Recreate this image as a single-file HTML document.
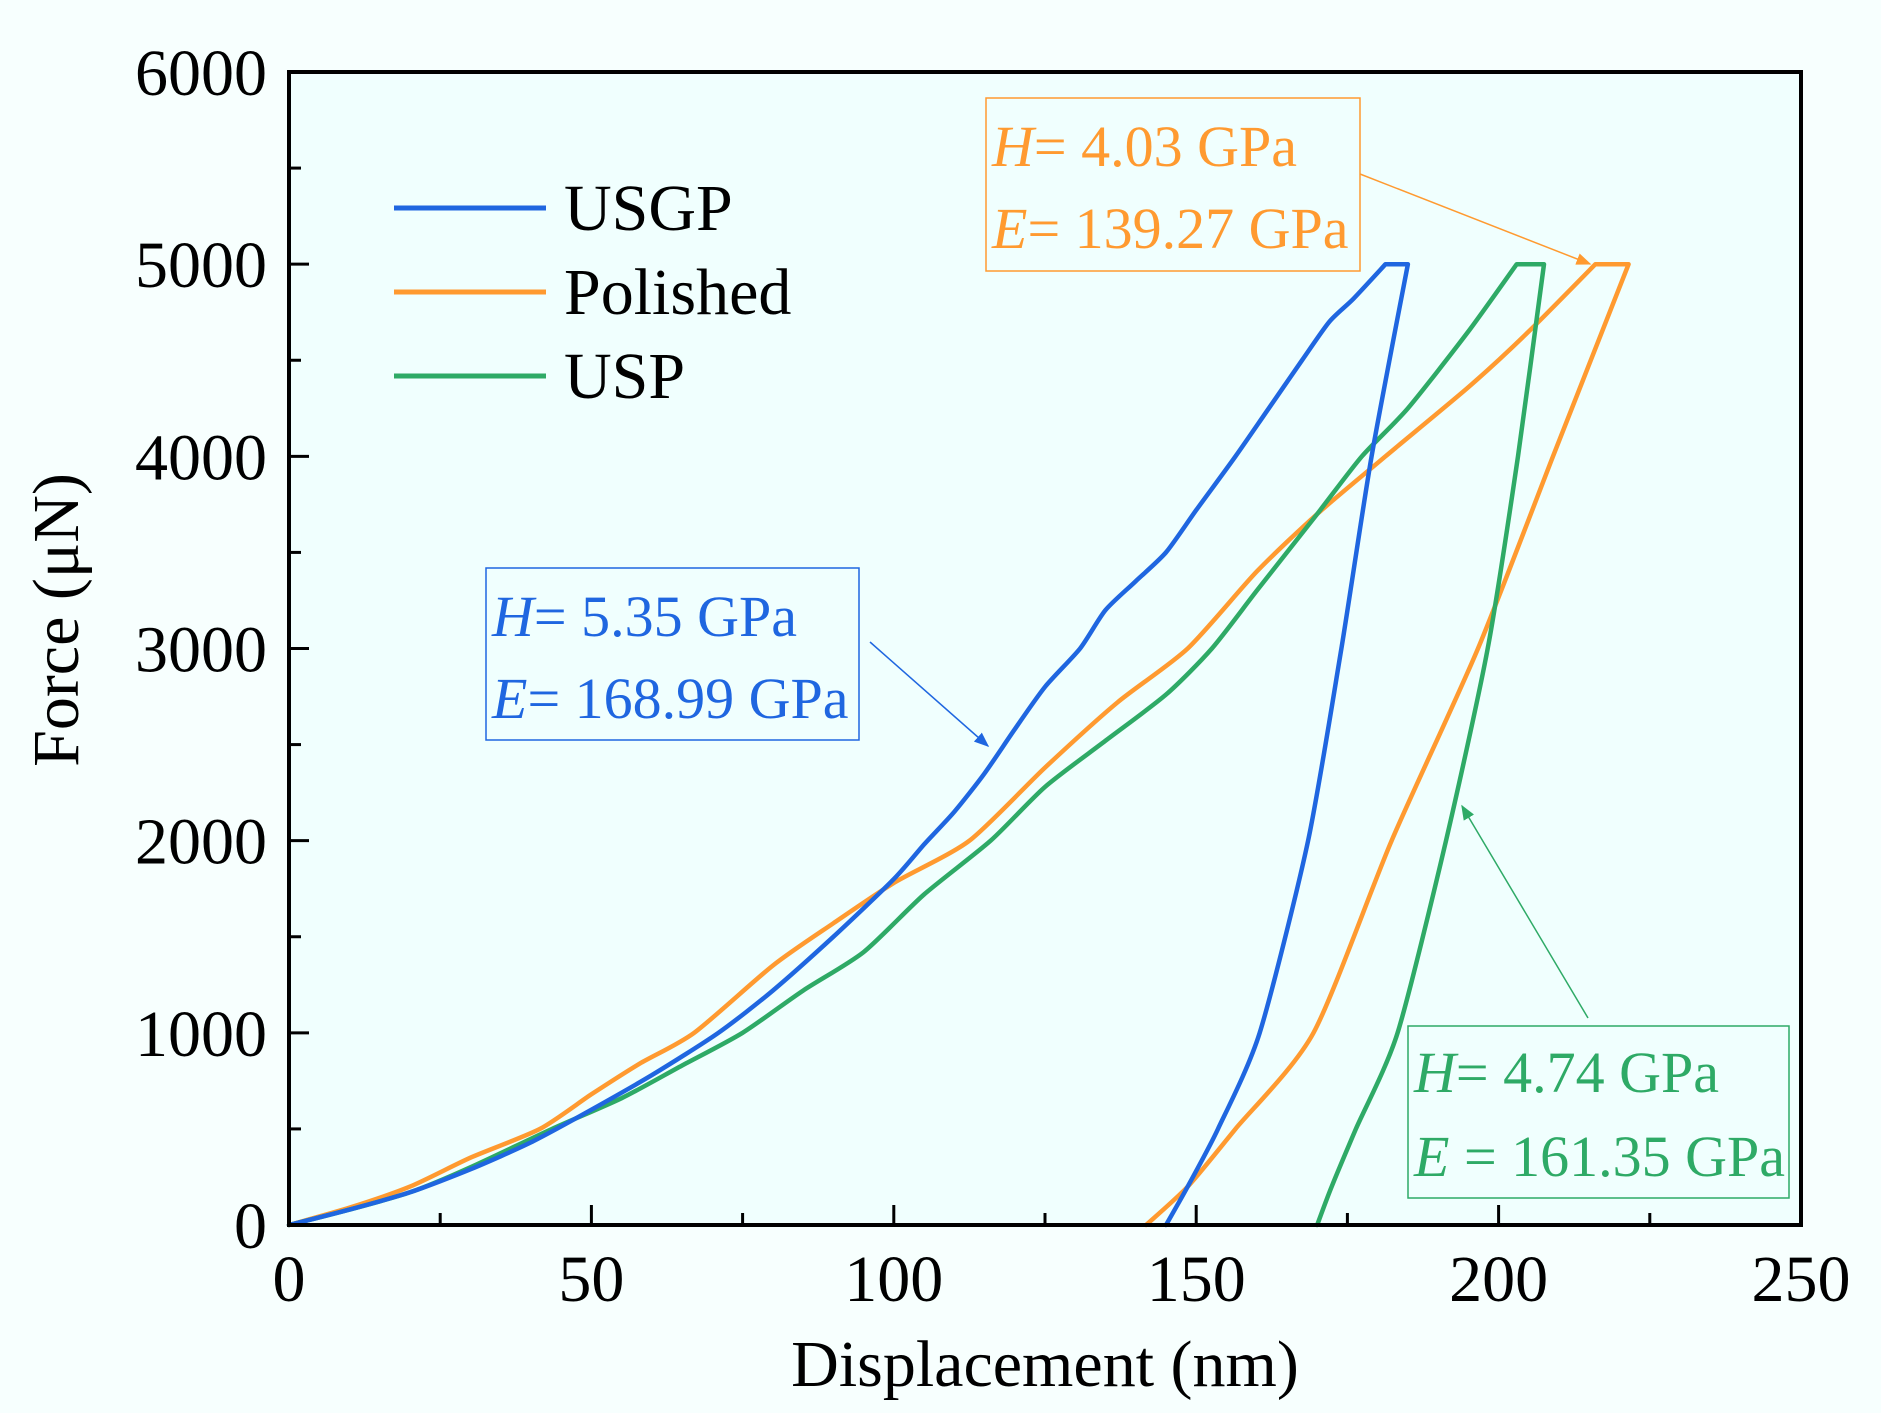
<!DOCTYPE html>
<html><head><meta charset="utf-8">
<style>
html,body{margin:0;padding:0;background:#f7fffe;}
svg{display:block;font-family:"Liberation Serif",serif;}
</style></head>
<body>
<svg id="chart" width="1881" height="1413" viewBox="0 0 1881 1413" xmlns="http://www.w3.org/2000/svg">
<rect x="0" y="0" width="1881" height="1413" fill="#f7fffe"/>
<rect x="289" y="72" width="1512" height="1153" fill="#f0fffe"/>
<g id="curves"></g>
<g id="axes"></g>
<rect x="289" y="72" width="1512" height="1153" fill="none" stroke="#000" stroke-width="4"/>
<text x="0" y="0" transform="translate(78,620) rotate(-90)" text-anchor="middle" font-size="66" fill="#000">Force (μN)</text>
<text x="1045" y="1386" text-anchor="middle" font-size="66" fill="#000">Displacement (nm)</text>
<g>
<g><line x1="394" y1="208" x2="546" y2="208" stroke="#1f66e0" stroke-width="5"/><text x="564" y="230" font-size="66">USGP</text></g>
<g><line x1="394" y1="292" x2="546" y2="292" stroke="#ff9a30" stroke-width="5"/><text x="564" y="314" font-size="66">Polished</text></g>
<g><line x1="394" y1="376" x2="546" y2="376" stroke="#2eaa66" stroke-width="5"/><text x="564" y="398" font-size="66">USP</text></g>
</g>
<defs>
<marker id="ao" markerWidth="10" markerHeight="8" refX="9" refY="4" orient="auto" viewBox="0 0 10 8"><path d="M0,0 L10,4 L0,8 Z" fill="#ff9a30"/></marker>
<marker id="ab" markerWidth="10" markerHeight="8" refX="9" refY="4" orient="auto" viewBox="0 0 10 8"><path d="M0,0 L10,4 L0,8 Z" fill="#1f66e0"/></marker>
<marker id="ag" markerWidth="10" markerHeight="8" refX="9" refY="4" orient="auto" viewBox="0 0 10 8"><path d="M0,0 L10,4 L0,8 Z" fill="#2eaa66"/></marker>
</defs>
<g fill="#ff9a30">
<rect x="986" y="98" width="374" height="173" fill="none" stroke="#ff9a30" stroke-width="1.5"/>
<text x="992" y="166" font-size="58"><tspan font-style="italic">H</tspan>= 4.03 GPa</text>
<text x="992" y="248" font-size="58"><tspan font-style="italic">E</tspan>= 139.27 GPa</text>
<line x1="1360" y1="174" x2="1590" y2="264" stroke="#ff9a30" stroke-width="1.5" marker-end="url(#ao)"/>
</g>
<g fill="#1f66e0">
<rect x="486" y="568" width="373" height="172" fill="none" stroke="#1f66e0" stroke-width="1.5"/>
<text x="492" y="636" font-size="58"><tspan font-style="italic">H</tspan>= 5.35 GPa</text>
<text x="492" y="718" font-size="58"><tspan font-style="italic">E</tspan>= 168.99 GPa</text>
<line x1="870" y1="642" x2="988" y2="746" stroke="#1f66e0" stroke-width="1.5" marker-end="url(#ab)"/>
</g>
<g fill="#2eaa66">
<rect x="1408" y="1026" width="381" height="172" fill="none" stroke="#2eaa66" stroke-width="1.5"/>
<text x="1414" y="1092" font-size="58"><tspan font-style="italic">H</tspan>= 4.74 GPa</text>
<text x="1414" y="1176" font-size="58"><tspan font-style="italic">E</tspan> = 161.35 GPa</text>
<line x1="1588" y1="1018" x2="1462" y2="806" stroke="#2eaa66" stroke-width="1.5" marker-end="url(#ag)"/>
</g>
</svg>
<script>
const xTicks = [0, 50, 100, 150, 200, 250];
const yTicks = [0, 1000, 2000, 3000, 4000, 5000, 6000];
const usgpDisp = [0,10,20,30,40,50,60,71,80,90,100,105,110,115,120,125,130.8,135,140,145,150,156.5,162,167.5,172,176,181.3,185,179,174,168.5,160.5,153.6,148.6,145];
const usgpForce = [0,80,170,290,430,600,780,1000,1220,1500,1800,1980,2150,2350,2580,2800,3000,3200,3350,3500,3720,4000,4250,4500,4700,4820,5000,5000,4000,3000,2000,1000,500,200,0];
const polDisp = [0,10,20,30,41.5,50,58,67,80,90,100,112.5,125,137,148.6,160,170,181.3,195,205,216,221.5,209,196.6,182.3,169.4,156.5,148.6,141.7];
const polForce = [0,90,200,350,500,680,840,1000,1350,1570,1780,2000,2380,2720,3000,3400,3700,4000,4360,4650,5000,5000,4000,3000,2000,1000,500,200,0];
const uspDisp = [0,10,20,30,43.5,55,65,75,85,95,105,116,125,135,145,152.6,160,170,177.4,185,195,203,207.5,203.2,198.2,191.3,183.3,176.4,172.4,170];
const uspForce = [0,80,170,300,500,660,830,1000,1220,1420,1720,2000,2280,2520,2760,3000,3300,3700,4000,4250,4650,5000,5000,4000,3000,2000,1000,500,200,0];

const X0=289, X1=1801, Y0=1225, Y1=72;
const xs = d => X0 + (d/250)*(X1-X0);
const ys = f => Y0 - (f/6000)*(Y0-Y1);
const NS='http://www.w3.org/2000/svg';
const axes=document.getElementById('axes');
const curves=document.getElementById('curves');

function mk(tag, attrs, parent){const e=document.createElementNS(NS,tag);for(const k in attrs)e.setAttribute(k,attrs[k]);parent.appendChild(e);return e;}

xTicks.forEach((v,i)=>{
  const t=mk('line',{x1:xs(v),x2:xs(v),y1:Y0,y2:Y0-20,stroke:'#000','stroke-width':3},axes);
  
  
  if(i<xTicks.length-1){
    const m=mk('line',{x1:xs(v+25),x2:xs(v+25),y1:Y0,y2:Y0-12,stroke:'#000','stroke-width':3},axes);
    
    
  }
  const l=mk('text',{x:xs(v),y:Y0+76,'text-anchor':'middle','font-size':66,fill:'#000'},axes);
  l.textContent=v;
  
  
});
yTicks.forEach((v,i)=>{
  const t=mk('line',{x1:X0,x2:X0+20,y1:ys(v),y2:ys(v),stroke:'#000','stroke-width':3},axes);
  
  
  if(i<yTicks.length-1){
    const m=mk('line',{x1:X0,x2:X0+12,y1:ys(v+500),y2:ys(v+500),stroke:'#000','stroke-width':3},axes);
    
    
  }
  const l=mk('text',{x:X0-22,y:ys(v)+23,'text-anchor':'end','font-size':66,fill:'#000'},axes);
  l.textContent=v;
  
  
});

function smoothSeg(p, move){
  let d=(move?'M':'L')+p[0][0].toFixed(1)+','+p[0][1].toFixed(1);
  for(let i=0;i<p.length-1;i++){
    const p0=p[i-1]||p[i], p1=p[i], p2=p[i+1], p3=p[i+2]||p2;
    const t=0.12;
    const c1=[p1[0]+(p2[0]-p0[0])*t, p1[1]+(p2[1]-p0[1])*t];
    const c2=[p2[0]-(p3[0]-p1[0])*t, p2[1]-(p3[1]-p1[1])*t];
    d+=' C'+c1[0].toFixed(1)+','+c1[1].toFixed(1)+' '+c2[0].toFixed(1)+','+c2[1].toFixed(1)+' '+p2[0].toFixed(1)+','+p2[1].toFixed(1);
  }
  return d;
}
function drawSeries(dx, fy, color, name){
  const maxF=Math.max(...fy);
  const a=fy.indexOf(maxF), b=fy.lastIndexOf(maxF);
  const pts=dx.map((d,i)=>[xs(d),ys(fy[i])]);
  let d=smoothSeg(pts.slice(0,a+1),true);
  d+=' L'+pts[b][0].toFixed(1)+','+pts[b][1].toFixed(1);
  d+=' '+smoothSeg(pts.slice(b),false);
  const p=mk('path',{d:d,fill:'none',stroke:color,'stroke-width':4.5,'stroke-linejoin':'round','stroke-linecap':'round'},curves);
  
  
}
drawSeries(polDisp,polForce,'#ff9a30','series-polished');
drawSeries(uspDisp,uspForce,'#2eaa66','series-usp');
drawSeries(usgpDisp,usgpForce,'#1f66e0','series-usgp');
</script>
</body></html>
